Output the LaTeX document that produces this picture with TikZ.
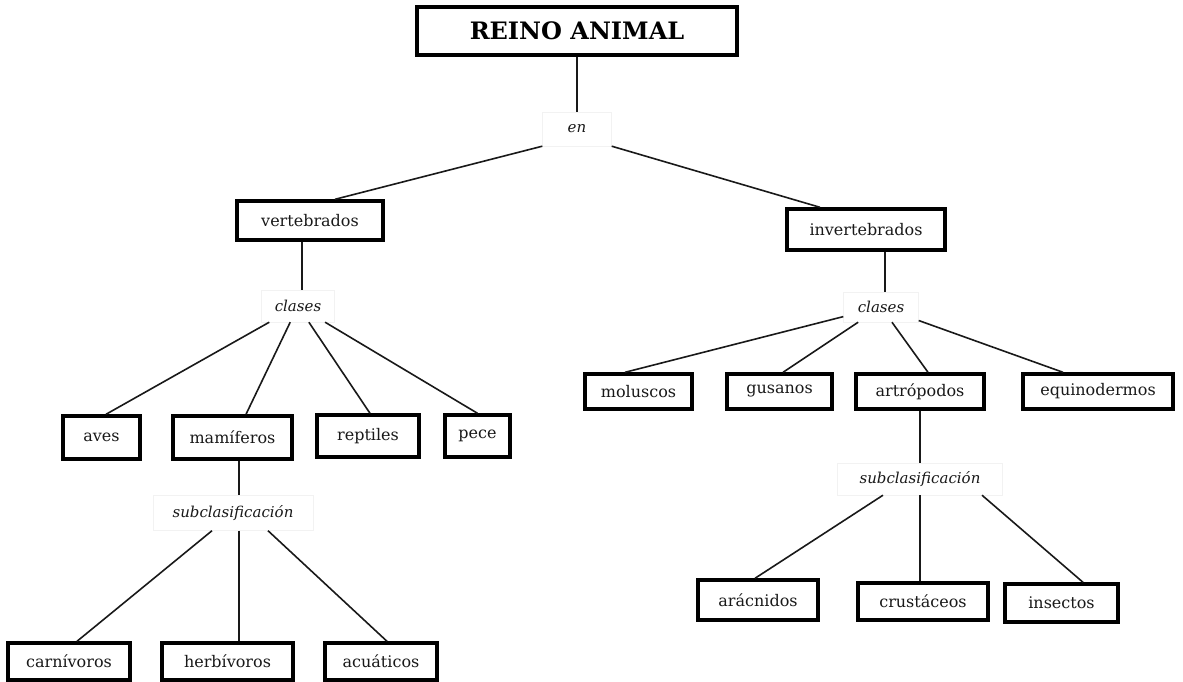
\documentclass[tikz,border=0pt]{standalone}
\usepackage{fontspec}
\setmainfont{DejaVu Serif}
\begin{document}
\begin{tikzpicture}[x=1pt,y=-1pt,
  box/.style={draw=black, line width=3.4pt, fill=white, inner sep=0pt, anchor=center,
    font=\fontsize{16}{18}\selectfont, text=black!90},
  linkw/.style={draw=gray!10, fill=white, inner sep=0pt, anchor=center,
    font=\fontsize{15}{17}\selectfont\itshape, text=black!90},
  conn/.style={line width=1.6pt, draw=black!90}]
\useasboundingbox (0,0) rectangle (1183,682);
% top
\node[box, line width=3.8pt, minimum width=320pt, minimum height=48pt, font=\fontsize{24}{28}\selectfont\bfseries, text=black] (reino) at (577,31) {REINO ANIMAL};
\node[linkw, minimum width=69pt, minimum height=34pt] (en) at (577,129) {en};
% level 2
\node[box, minimum width=146pt, minimum height=39pt] (vert) at (310,220.5) {vertebrados};
\node[box, minimum width=158pt, minimum height=41pt] (invert) at (866,229.5) {invertebrados};
% classes links
\node[linkw, minimum width=73pt, minimum height=32pt] (clasesL) at (298,306) {clases};
\node[linkw, minimum width=75pt, minimum height=30pt] (clasesR) at (881,307) {clases};
% left row
\node[box, minimum width=77pt, minimum height=43pt] (aves) at (101.5,437.5) {aves};
\node[box, minimum width=119pt, minimum height=43pt] (mam) at (232.5,437.5) {mamíferos};
\node[box, minimum width=102pt, minimum height=42pt] (rept) at (368,436) {reptiles};
\node[box, minimum width=65pt, minimum height=42pt] (pece) at (477.5,436) {pece};
% left sub
\node[linkw, minimum width=160pt, minimum height=35pt] (subL) at (233,513) {subclasificación};
\node[box, minimum width=122pt, minimum height=37pt] (carn) at (69,661.5) {carnívoros};
\node[box, minimum width=131pt, minimum height=37pt] (herb) at (227.5,661.5) {herbívoros};
\node[box, minimum width=112pt, minimum height=37pt] (acua) at (381,661.5) {acuáticos};
% right row
\node[box, minimum width=107pt, minimum height=35pt] (mol) at (638.5,391.5) {moluscos};
\node[box, minimum width=105pt, minimum height=35pt] (gus) at (779.5,391.5) {gusanos};
\node[box, minimum width=128pt, minimum height=35pt] (art) at (920,391.5) {artrópodos};
\node[box, minimum width=150pt, minimum height=35pt] (equi) at (1098,391.5) {equinodermos};
% right sub
\node[linkw, minimum width=165pt, minimum height=32pt] (subR) at (920,479) {subclasificación};
\node[box, minimum width=120pt, minimum height=40pt] (arac) at (758,600) {arácnidos};
\node[box, minimum width=130pt, minimum height=37pt] (crus) at (923,601.5) {crustáceos};
\node[box, minimum width=113pt, minimum height=38pt] (insec) at (1061.5,603) {insectos};
% connectors
\draw[conn] (reino) -- (en);
\draw[conn] (en.south west) -- ([xshift=25pt]vert.north);
\draw[conn] (en.south east) -- ([xshift=-46pt]invert.north);
\draw[conn] ([xshift=-8pt]vert.south) -- ([xshift=4pt]clasesL.north);
\draw[conn] (clasesL) -- ([xshift=4.5pt]aves.north);
\draw[conn] (clasesL) -- ([xshift=13.5pt]mam.north);
\draw[conn] (clasesL) -- ([xshift=2pt]rept.north);
\draw[conn] (clasesL) -- (pece.north);
\draw[conn] ([xshift=6.5pt]mam.south) -- ([xshift=6pt]subL.north);
\draw[conn] ([xshift=-21pt]subL.south) -- ([xshift=8pt]carn.north);
\draw[conn] ([xshift=6pt]subL.south) -- ([xshift=11.5pt]herb.north);
\draw[conn] ([xshift=35pt]subL.south) -- ([xshift=6pt]acua.north);
\draw[conn] ([xshift=19pt]invert.south) -- ([xshift=4pt]clasesR.north);
\draw[conn] (clasesR) -- ([xshift=-13.5pt]mol.north);
\draw[conn] (clasesR) -- ([xshift=3.5pt]gus.north);
\draw[conn] (clasesR) -- ([xshift=8pt]art.north);
\draw[conn] (clasesR) -- ([xshift=-35pt]equi.north);
\draw[conn] (art.south) -- (subR.north);
\draw[conn] ([xshift=-37pt]subR.south) -- ([xshift=-3pt]arac.north);
\draw[conn] (subR.south) -- ([xshift=-3pt]crus.north);
\draw[conn] ([xshift=62pt]subR.south) -- ([xshift=21.5pt]insec.north);
\end{tikzpicture}
\end{document}
